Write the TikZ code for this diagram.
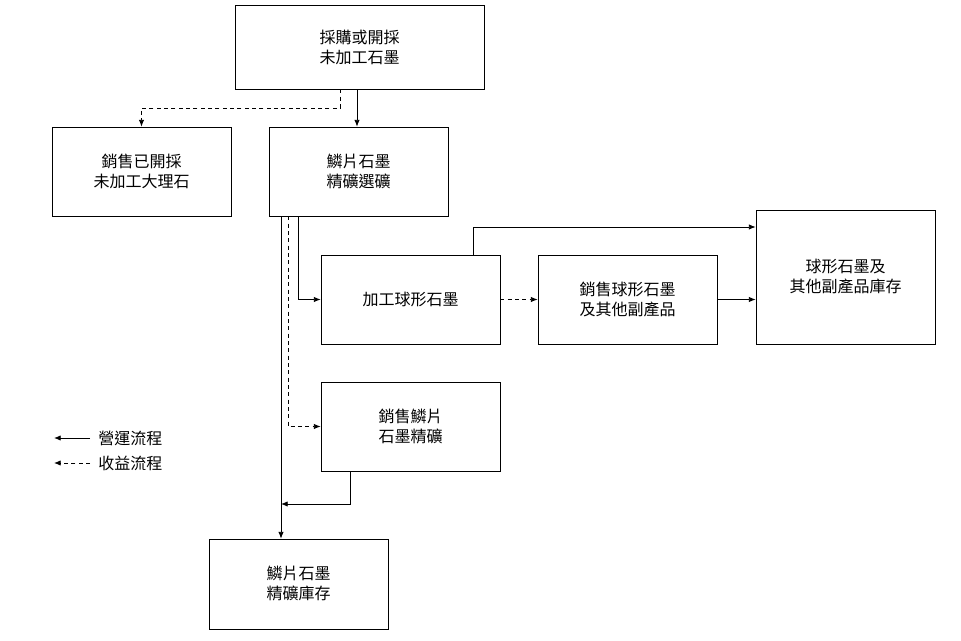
\documentclass[tikz,border=0pt]{standalone}
\usepackage{fontspec}
\setmainfont{Noto Sans CJK TC}
\usetikzlibrary{arrows.meta}
\begin{document}
\begin{tikzpicture}[x=0.75pt,y=-0.75pt,
  box/.style={draw,line width=0.6pt,minimum width=179*0.75pt,minimum height=89*0.75pt,align=center,font=\fontsize{12}{15}\selectfont,inner sep=0pt},
  ar/.style={-{Latex[length=5pt,width=4pt]},line width=0.6pt},
  da/.style={ar,dash pattern=on 3pt off 2.5pt}]
\useasboundingbox (0,0) rectangle (961,641);
\node[box,minimum width=249*0.75pt,minimum height=84*0.75pt] (top) at (359.5,47) {採購或開採\\未加工石墨};
\node[box] (sm) at (141.5,171.5) {銷售已開採\\未加工大理石};
\node[box] (fl) at (358.5,171.5) {鱗片石墨\\精礦選礦};
\node[box] (sp) at (410.5,299.5) {加工球形石墨};
\node[box] (ss) at (627.5,299.5) {銷售球形石墨\\及其他副產品};
\node[box,minimum height=134*0.75pt] (si) at (845.5,277) {球形石墨及\\其他副產品庫存};
\node[box] (sf) at (410.5,426.5) {銷售鱗片\\石墨精礦};
\node[box,minimum height=90*0.75pt] (fi) at (298.5,584) {鱗片石墨\\精礦庫存};
\draw[ar] (top.south -| 357,0) -- (fl.north -| 357,0);
\draw[da] (top.south -| 340,0) -- (340,108) -| (sm.north);
\draw[ar] (fl.south -| 298,0) |- (sp.west);
\draw[da] (fl.south -| 288,0) |- (sf.west);
\draw[ar] (fl.south -| 281,0) -- (fi.north -| 281,0);
\draw[ar] (sf.south -| 350,0) -- (350,504) -- (281,504);
\draw[ar] (sp.north -| 473,0) |- (si.west |- 0,227);
\draw[da] (sp.east) -- (ss.west);
\draw[ar] (ss.east) -- (ss.east -| si.west);
\coordinate (l1a) at (90,438); \coordinate (l1b) at (54,438);
\coordinate (l2a) at (90,463); \coordinate (l2b) at (54,463);
\draw[ar] (l1a) -- (l1b);
\draw[da] (l2a) -- (l2b);
\node[anchor=west,font=\fontsize{12}{15}\selectfont,inner sep=0pt] (t1) at (98,438) {營運流程};
\node[anchor=west,font=\fontsize{12}{15}\selectfont,inner sep=0pt] (t2) at (98,463) {收益流程};
\end{tikzpicture}
\end{document}
